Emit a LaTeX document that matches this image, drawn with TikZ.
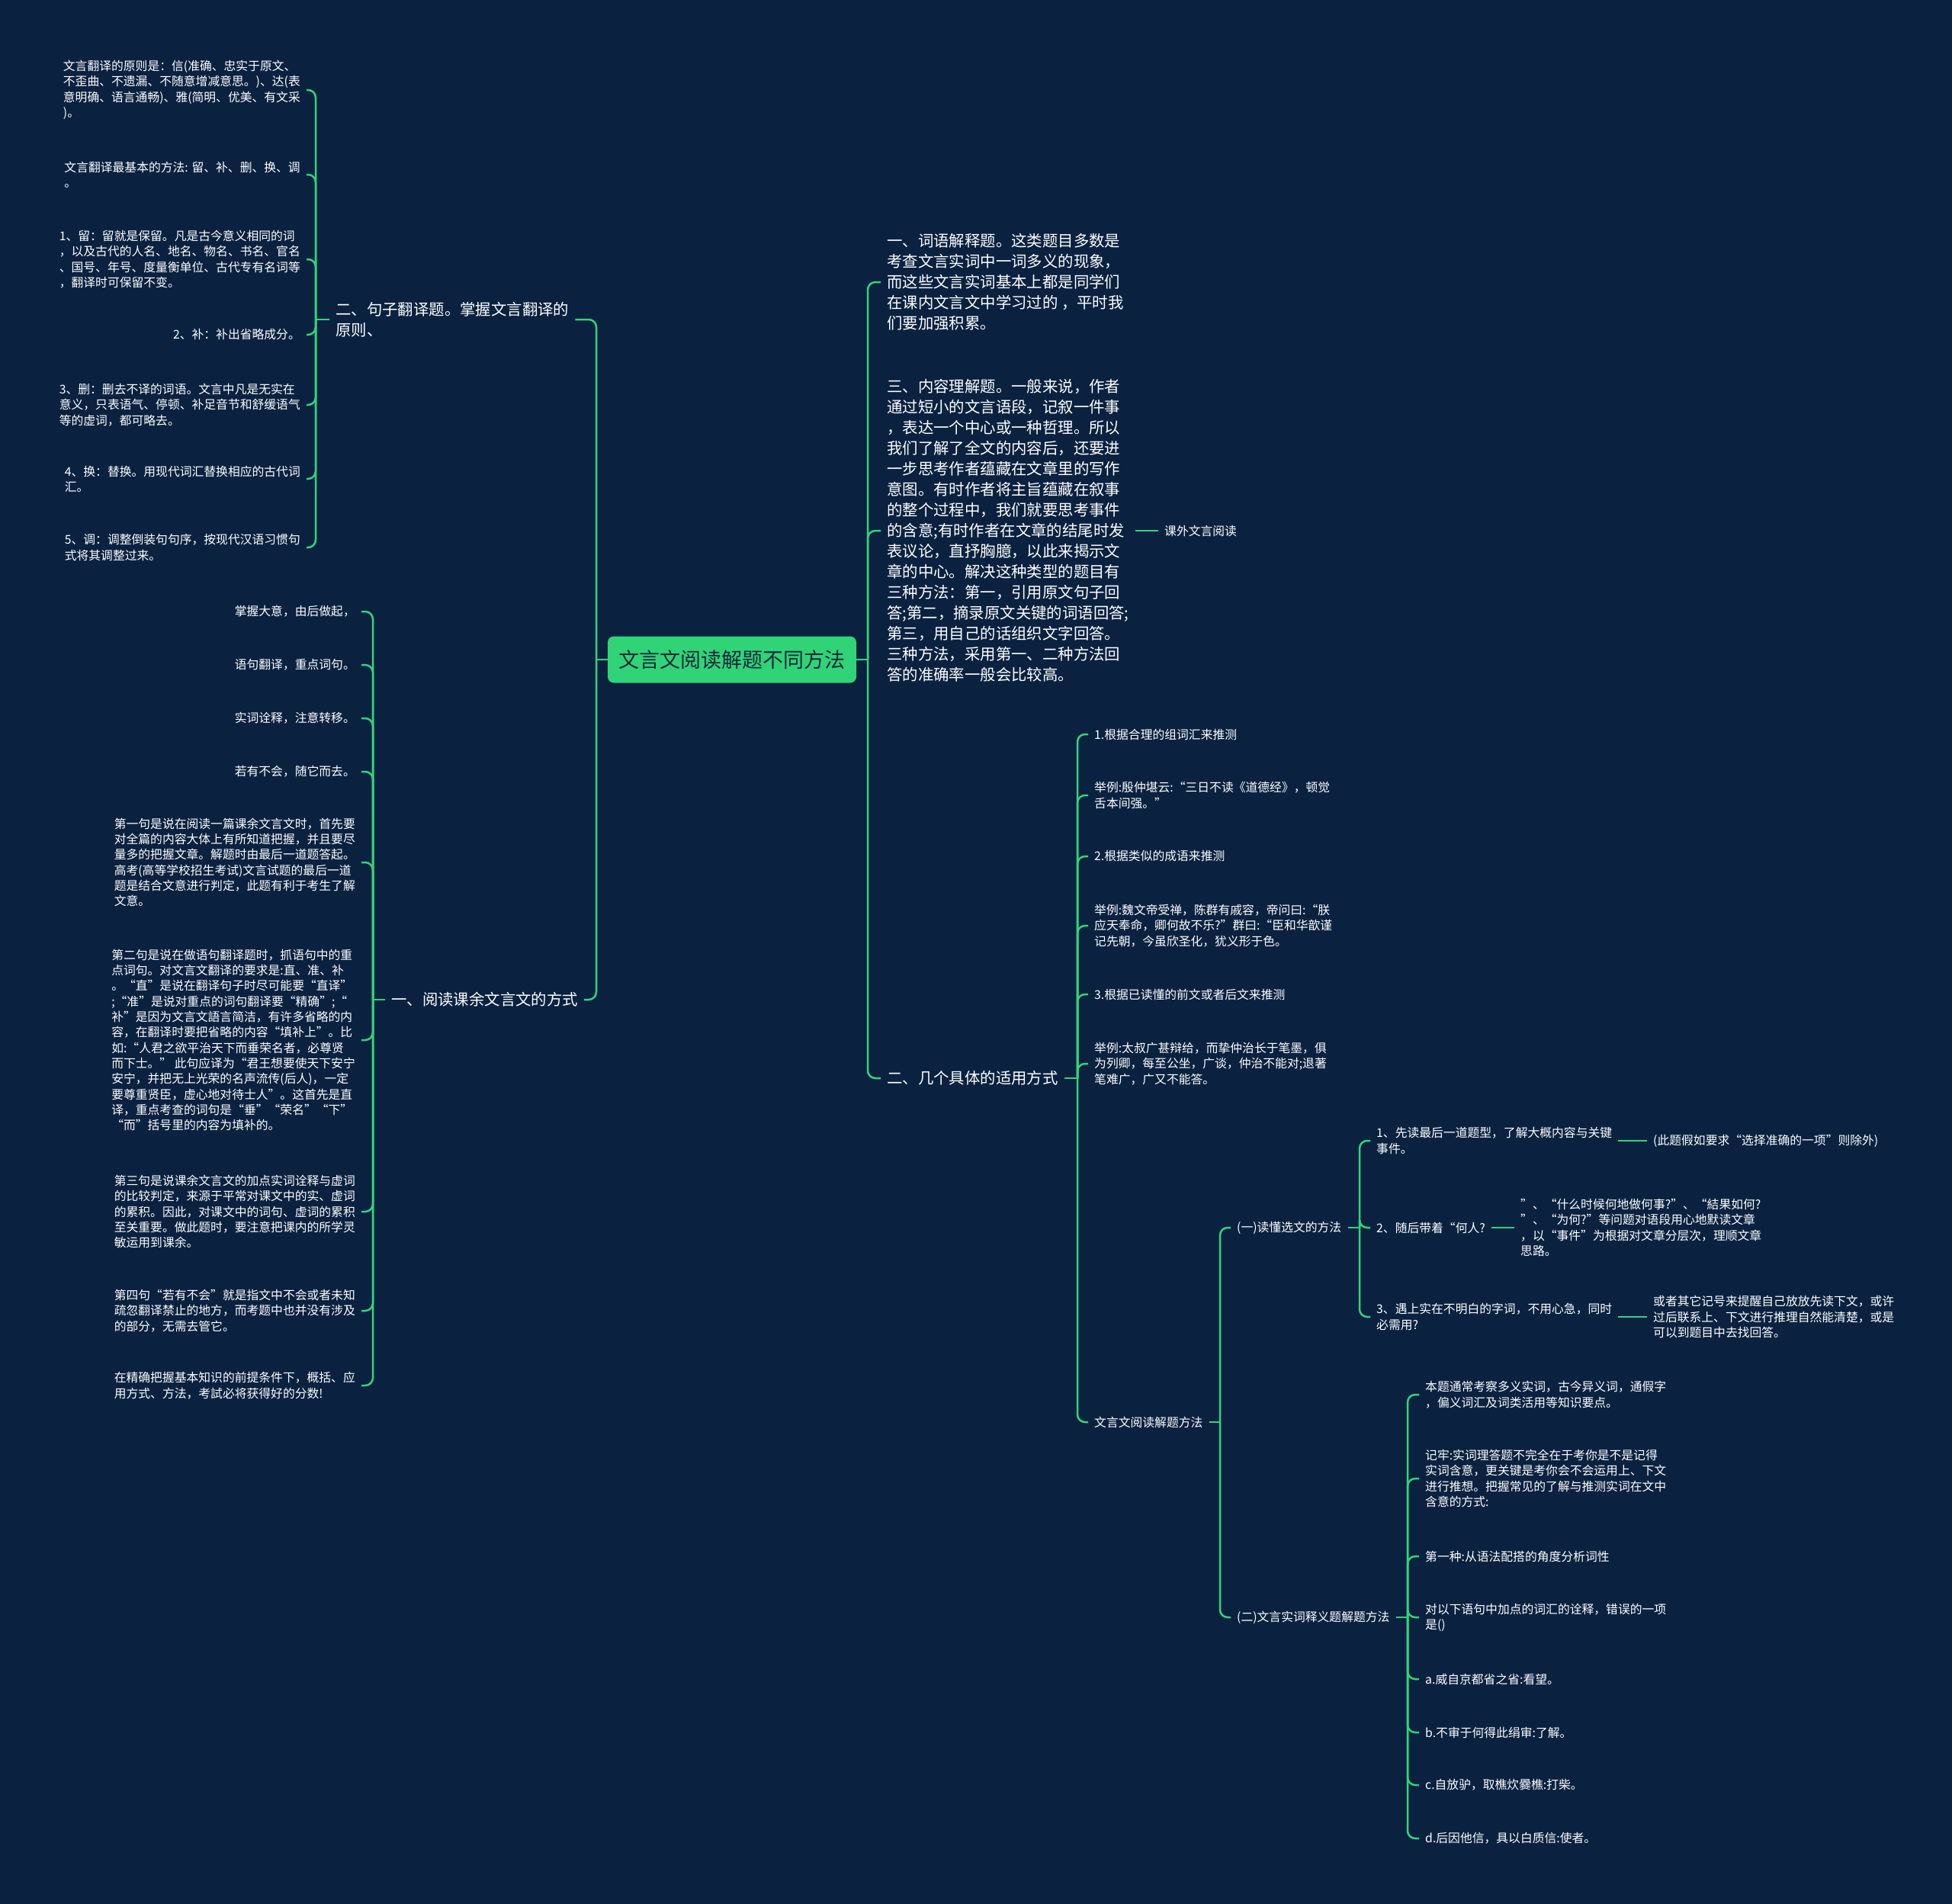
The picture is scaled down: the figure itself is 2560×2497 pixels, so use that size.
\documentclass[tikz,border=0pt]{standalone}
\usepackage{fontspec}
\setmainfont{Noto Sans CJK SC}
\definecolor{bgc}{HTML}{0A2240}
\definecolor{lc}{HTML}{35D27A}
\definecolor{rootc}{HTML}{30D477}
\definecolor{roottext}{HTML}{14283A}
\begin{document}
\begin{tikzpicture}[x=1pt,y=-1pt,
  conn/.style={draw=lc,line width=2.5pt,rounded corners=10pt},
  sm/.style={text=white,font=\fontsize{15.8}{20.3}\selectfont,align=left,inner xsep=8pt,inner ysep=2pt},
  md/.style={text=white,font=\fontsize{20.4}{27}\selectfont,align=left,inner xsep=8pt,inner ysep=2pt},
  rootbox/.style={fill=rootc,rounded corners=8pt,text=roottext,font=\fontsize{27}{34}\selectfont,minimum width=326pt,minimum height=61pt,inner sep=0pt}]
\fill[bgc] (0,0) rectangle (2560,2497);
\useasboundingbox (0,0) rectangle (2560,2497);

% root
\node[rootbox] (root) at (960,865) {文言文阅读解题不同方法};

% ---------- left top group ----------
\node[md,anchor=west] (n2) at (432,419) {二、句子翻译题。掌握文言翻译的\\原则、};
\node[sm,anchor=east] (n2a) at (402,118) {文言翻译的原则是：信(准确、忠实于原文、\\不歪曲、不遗漏、不随意增减意思。)、达(表\\意明确、语言通畅)、雅(简明、优美、有文采\\)。};
\node[sm,anchor=east] (n2b) at (402,229) {文言翻译最基本的方法: 留、补、删、换、调\\。};
\node[sm,anchor=east] (n2c) at (402,340) {1、留：留就是保留。凡是古今意义相同的词\\，以及古代的人名、地名、物名、书名、官名\\、国号、年号、度量衡单位、古代专有名词等\\，翻译时可保留不变。};
\node[sm,anchor=east] (n2d) at (402,439) {2、补：补出省略成分。};
\node[sm,anchor=east] (n2e) at (402,531) {3、删：删去不译的词语。文言中凡是无实在\\意义，只表语气、停顿、补足音节和舒缓语气\\等的虚词，都可略去。};
\node[sm,anchor=east] (n2f) at (402,628) {4、换：替换。用现代词汇替换相应的古代词\\汇。};
\node[sm,anchor=east] (n2g) at (402,718) {5、调：调整倒装句句序，按现代汉语习惯句\\式将其调整过来。};

% ---------- left bottom group ----------
\node[md,anchor=west] (n1) at (505,1311) {一、阅读课余文言文的方式};
\node[sm,anchor=east] (n1a) at (474,802) {掌握大意，由后做起，};
\node[sm,anchor=east] (n1b) at (474,872) {语句翻译，重点词句。};
\node[sm,anchor=east] (n1c) at (474,942) {实词诠释，注意转移。};
\node[sm,anchor=east] (n1d) at (474,1012) {若有不会，随它而去。};
\node[sm,anchor=east] (n1e) at (474,1131) {第一句是说在阅读一篇课余文言文时，首先要\\对全篇的内容大体上有所知道把握，并且要尽\\量多的把握文章。解题时由最后一道题答起。\\高考(高等学校招生考试)文言试题的最后一道\\题是结合文意进行判定，此题有利于考生了解\\文意。};
\node[sm,anchor=east] (n1f) at (474,1364) {第二句是说在做语句翻译题时，抓语句中的重\\点词句。对文言文翻译的要求是:直、准、补\\。“直”是说在翻译句子时尽可能要“直译”\\;“准”是说对重点的词句翻译要“精确”;“\\补”是因为文言文語言简洁，有许多省略的内\\容，在翻译时要把省略的内容“填补上”。比\\如:“人君之欲平治天下而垂荣名者，必尊贤\\而下士。” 此句应译为“君王想要使天下安宁\\安宁，并把无上光荣的名声流传(后人)，一定\\要尊重贤臣，虚心地对待士人”。这首先是直\\译，重点考查的词句是“垂”“荣名”“下”\\“而”括号里的内容为填补的。};
\node[sm,anchor=east] (n1g) at (474,1589) {第三句是说课余文言文的加点实词诠释与虚词\\的比较判定，来源于平常对课文中的实、虚词\\的累积。因此，对课文中的词句、虚词的累积\\至关重要。做此题时，要注意把课内的所学灵\\敏运用到课余。};
\node[sm,anchor=east] (n1h) at (474,1719) {第四句“若有不会”就是指文中不会或者未知\\疏忽翻译禁止的地方，而考题中也并没有涉及\\的部分，无需去管它。};
\node[sm,anchor=east] (n1i) at (474,1817) {在精确把握基本知识的前提条件下，概括、应\\用方式、方法，考試必将获得好的分数!};

% ---------- right side ----------
\node[md,anchor=west] (rA) at (1155,370) {一、词语解释题。这类题目多数是\\考查文言实词中一词多义的现象，\\而这些文言实词基本上都是同学们\\在课内文言文中学习过的 ，平时我\\们要加强积累。};
\node[md,anchor=west] (rB) at (1155,696) {三、内容理解题。一般来说，作者\\通过短小的文言语段，记叙一件事\\，表达一个中心或一种哲理。所以\\我们了解了全文的内容后，还要进\\一步思考作者蕴藏在文章里的写作\\意图。有时作者将主旨蕴藏在叙事\\的整个过程中，我们就要思考事件\\的含意;有时作者在文章的结尾时发\\表议论，直抒胸臆，以此来揭示文\\章的中心。解决这种类型的题目有\\三种方法：第一，引用原文句子回\\答;第二，摘录原文关键的词语回答;\\第三，用自己的话组织文字回答。\\三种方法，采用第一、二种方法回\\答的准确率一般会比较高。};
\node[sm,anchor=west] (rK) at (1519,696) {课外文言阅读};
\node[md,anchor=west] (rC) at (1155,1414) {二、几个具体的适用方式};

\node[sm,anchor=west] (c1) at (1427,963) {1.根据合理的组词汇来推测};
\node[sm,anchor=west] (c2) at (1427,1043) {举例:殷仲堪云:“三日不读《道德经》，顿觉\\舌本间强。”};
\node[sm,anchor=west] (c3) at (1427,1123) {2.根据类似的成语来推测};
\node[sm,anchor=west] (c4) at (1427,1214) {举例:魏文帝受禅，陈群有戚容，帝问曰:“朕\\应天奉命，卿何故不乐?”群曰:“臣和华歆谨\\记先朝，今虽欣圣化，犹义形于色。};
\node[sm,anchor=west] (c5) at (1427,1304) {3.根据已读懂的前文或者后文来推测};
\node[sm,anchor=west] (c6) at (1427,1395) {举例:太叔广甚辩给，而挚仲治长于笔墨，俱\\为列卿，每至公坐，广谈，仲治不能对;退著\\笔难广，广又不能答。};
\node[sm,anchor=west] (rD) at (1427,1865) {文言文阅读解题方法};

\node[sm,anchor=west] (e1) at (1614,1610) {(一)读懂选文的方法};
\node[sm,anchor=west] (e2) at (1614,2121) {(二)文言实词释义题解题方法};

\node[sm,anchor=west] (f1) at (1797,1496) {1、先读最后一道题型，了解大概内容与关键\\事件。};
\node[sm,anchor=west] (f2) at (1797,1610) {2、随后带着“何人?};
\node[sm,anchor=west] (f3) at (1797,1727) {3、遇上实在不明白的字词，不用心急，同时\\必需用?};
\node[sm,anchor=west] (g1) at (2160,1496) {(此题假如要求“选择准确的一项”则除外)};
\node[sm,anchor=west] (g2) at (1986,1610) {”、“什么时候何地做何事?”、“結果如何?\\”、“为何?”等问题对语段用心地默读文章\\，以“事件”为根据对文章分层次，理顺文章\\思路。};
\node[sm,anchor=west] (g3) at (2160,1727) {或者其它记号来提醒自己放放先读下文，或许\\过后联系上、下文进行推理自然能清楚，或是\\可以到题目中去找回答。};

\node[sm,anchor=west] (h1) at (1861,1829) {本题通常考察多义实词，古今异义词，通假字\\，偏义词汇及词类活用等知识要点。};
\node[sm,anchor=west] (h2) at (1861,1939) {记牢:实词理答题不完全在于考你是不是记得\\实词含意，更关键是考你会不会运用上、下文\\进行推想。把握常见的了解与推测实词在文中\\含意的方式:};
\node[sm,anchor=west] (h3) at (1861,2041) {第一种:从语法配搭的角度分析词性};
\node[sm,anchor=west] (h4) at (1861,2121) {对以下语句中加点的词汇的诠释，错误的一项\\是()};
\node[sm,anchor=west] (h5) at (1861,2202) {a.威自京都省之省:看望。};
\node[sm,anchor=west] (h6) at (1861,2272) {b.不审于何得此绢审:了解。};
\node[sm,anchor=west] (h7) at (1861,2341) {c.自放驴，取樵炊爨樵:打柴。};
\node[sm,anchor=west] (h8) at (1861,2411) {d.后因他信，具以白质信:使者。};

% ---------- trunk coordinates ----------
\coordinate (rl) at (782,865);
\coordinate (t2) at (414,419);
\coordinate (t1) at (489,1311);
\coordinate (rr) at (1138,865);
\coordinate (tC) at (1413,1414);
\coordinate (tD) at (1600,1865);
\coordinate (tE1) at (1783,1610);
\coordinate (tE2) at (1846,2121);

% ---------- connectors ----------
\draw[conn] (root.west) -- (rl);
\draw[conn] (rl) |- (n2.east);
\draw[conn] (rl) |- (n1.east);

\draw[conn] (n2.west) -- (t2);
\foreach \c in {n2a,n2b,n2c,n2d,n2e,n2f,n2g} \draw[conn] (t2) |- (\c.east);

\draw[conn] (n1.west) -- (t1);
\foreach \c in {n1a,n1b,n1c,n1d,n1e,n1f,n1g,n1h,n1i} \draw[conn] (t1) |- (\c.east);

\draw[conn] (root.east) -- (rr);
\foreach \c in {rA,rB,rC} \draw[conn] (rr) |- (\c.west);
\draw[conn] (rB.east) -- (rK.west);

\draw[conn] (rC.east) -- (tC);
\foreach \c in {c1,c2,c3,c4,c5,c6,rD} \draw[conn] (tC) |- (\c.west);

\draw[conn] (rD.east) -- (tD);
\foreach \c in {e1,e2} \draw[conn] (tD) |- (\c.west);

\draw[conn] (e1.east) -- (tE1);
\foreach \c in {f1,f2,f3} \draw[conn] (tE1) |- (\c.west);
\draw[conn] (f1.east) -- (g1.west);
\draw[conn] (f2.east) -- (g2.west);
\draw[conn] (f3.east) -- (g3.west);

\draw[conn] (e2.east) -- (tE2);
\foreach \c in {h1,h2,h3,h4,h5,h6,h7,h8} \draw[conn] (tE2) |- (\c.west);
\end{tikzpicture}
\end{document}
